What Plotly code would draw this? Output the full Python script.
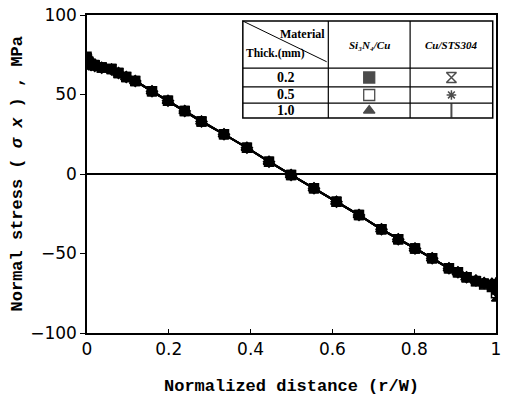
import plotly.graph_objects as go

# ---- data ----
r_over_w = [0.0, 0.004, 0.01, 0.019, 0.036, 0.06, 0.077, 0.096, 0.118, 0.159, 0.198,
            0.239, 0.28, 0.335, 0.391, 0.445, 0.499, 0.555, 0.61, 0.665, 0.72, 0.761,
            0.802, 0.844, 0.885, 0.907, 0.928, 0.951, 0.971, 0.99, 1.0]

stress_si_02 = [74.0, 71.0, 69.5, 68.5, 67.0, 66.0, 63.5, 61.0, 58.5, 52.0, 46.0,
                39.6, 33.0, 25.0, 16.5, 7.7, -0.6, -9.0, -17.4, -25.8, -34.8, -41.0,
                -46.8, -53.0, -59.3, -61.8, -65.0, -67.3, -68.8, -69.8, -73.0]
stress_si_05 = [72.0, 70.0, 69.0, 68.3, 67.0, 66.0, 63.5, 61.0, 58.5, 52.0, 46.0,
                39.6, 33.0, 25.0, 16.5, 7.7, -0.6, -9.0, -17.4, -25.8, -34.8, -41.0,
                -46.8, -53.0, -59.3, -61.8, -65.0, -67.5, -69.5, -71.0, -75.0]
stress_si_10 = [70.0, 69.0, 68.5, 68.0, 66.8, 65.8, 63.5, 61.0, 58.5, 52.0, 46.0,
                39.6, 33.0, 25.0, 16.5, 7.7, -0.6, -9.0, -17.4, -25.8, -34.8, -41.0,
                -46.8, -53.0, -59.3, -61.8, -65.0, -67.0, -68.5, -69.0, -69.0]
stress_cu_02 = [73.0, 70.5, 69.3, 68.5, 67.0, 66.0, 63.5, 61.0, 58.5, 52.0, 46.0,
                39.6, 33.0, 25.0, 16.5, 7.7, -0.6, -9.0, -17.4, -25.8, -34.8, -41.0,
                -46.8, -53.0, -59.3, -61.8, -65.0, -67.3, -68.8, -70.5, -77.0]
stress_cu_05 = [71.0, 69.5, 69.0, 68.3, 67.0, 66.0, 63.5, 61.0, 58.5, 52.0, 46.0,
                39.6, 33.0, 25.0, 16.5, 7.7, -0.6, -9.0, -17.4, -25.8, -34.8, -41.0,
                -46.8, -53.0, -59.3, -61.8, -65.0, -67.3, -69.0, -70.0, -71.0]
stress_cu_10 = [69.0, 68.5, 68.3, 68.0, 66.8, 65.8, 63.5, 61.0, 58.5, 52.0, 46.0,
                39.6, 33.0, 25.0, 16.5, 7.7, -0.6, -9.0, -17.4, -25.8, -34.8, -41.0,
                -46.8, -53.0, -59.3, -61.8, -65.0, -67.0, -68.5, -69.5, -68.0]

x_ticks = [0, 0.2, 0.4, 0.6, 0.8, 1]
x_tick_labels = ["0", "0.2", "0.4", "0.6", "0.8", "1"]
y_ticks = [-100, -50, 0, 50, 100]

thickness_labels = ["0.2", "0.5", "1.0"]
material_labels = ["Si₃N₄/Cu", "Cu/STS304"]
si_symbols = ["square", "square-open", "triangle-up"]
cu_symbols = ["hourglass-open", "asterisk-open", "line-ns-open"]

fig = go.Figure()

series = [
    (stress_cu_10, "line-ns-open", 7),
    (stress_si_10, "triangle-up", 10),
    (stress_si_05, "square-open", 9),
    (stress_cu_05, "asterisk-open", 8),
    (stress_cu_02, "hourglass", 9),
    (stress_si_02, "square", 8),
]
for ys, sym, sz in series:
    fig.add_trace(go.Scatter(
        x=r_over_w, y=ys, mode="lines+markers",
        line=dict(color="black", width=2),
        marker=dict(symbol=sym, size=sz, color="black",
                    line=dict(color="black", width=1.5)),
        showlegend=False, hoverinfo="skip"))
fig.add_trace(go.Scatter(
    x=r_over_w, y=stress_si_10, mode="markers",
    marker=dict(symbol="diamond", size=10, color="black"),
    showlegend=False, hoverinfo="skip"))

# ---- table in the upper right (paper coords of the plot area) ----
col_edges = [0.381, 0.590, 0.790, 0.992]
row_edges = [0.981, 0.833, 0.774, 0.723, 0.676]
shapes = []
shapes.append(dict(type="rect", xref="paper", yref="paper",
                   x0=col_edges[0], x1=col_edges[-1], y0=row_edges[-1], y1=row_edges[0],
                   fillcolor="white", line=dict(color="black", width=1.5), layer="below"))
for cx in col_edges[1:-1]:
    shapes.append(dict(type="line", xref="paper", yref="paper", x0=cx, x1=cx, layer="below",
                       y0=row_edges[-1], y1=row_edges[0], line=dict(color="black", width=1.2)))
for ry in row_edges[1:-1]:
    shapes.append(dict(type="line", xref="paper", yref="paper", x0=col_edges[0], x1=col_edges[-1],
                       layer="below", y0=ry, y1=ry, line=dict(color="black", width=1.2)))
shapes.append(dict(type="line", xref="paper", yref="paper", layer="below",
                   x0=col_edges[0], y0=row_edges[0], x1=col_edges[1] - 0.004, y1=row_edges[1] + 0.02,
                   line=dict(color="black", width=1)))

serif = "Liberation Serif"
ann = []
ann.append(dict(xref="paper", yref="paper", x=col_edges[1] - 0.004, y=0.94, xanchor="right",
                yanchor="middle", text="<b>Material</b>", showarrow=False,
                font=dict(family=serif, size=12, color="black")))
ann.append(dict(xref="paper", yref="paper", x=col_edges[0] + 0.003, y=0.878, xanchor="left",
                yanchor="middle", text="<b>Thick.(mm)</b>", showarrow=False,
                font=dict(family=serif, size=11.5, color="black")))
for i, lab in enumerate(material_labels):
    ann.append(dict(xref="paper", yref="paper", x=(col_edges[i + 1] + col_edges[i + 2]) / 2,
                    y=(row_edges[0] + row_edges[1]) / 2, xanchor="center", yanchor="middle",
                    text="<b><i>" + lab + "</i></b>", showarrow=False,
                    font=dict(family=serif, size=11, color="black")))
for j, lab in enumerate(thickness_labels):
    ann.append(dict(xref="paper", yref="paper", x=(col_edges[0] + col_edges[1]) / 2,
                    y=(row_edges[j + 1] + row_edges[j + 2]) / 2, xanchor="center", yanchor="middle",
                    text="<b>" + lab + "</b>", showarrow=False,
                    font=dict(family=serif, size=14, color="black")))

row_centers = [(row_edges[j + 1] + row_edges[j + 2]) / 2 for j in range(3)]
fig.add_trace(go.Scatter(
    x=[(col_edges[1] + col_edges[2]) / 2] * 3, y=row_centers, mode="markers",
    xaxis="x2", yaxis="y2", showlegend=False, hoverinfo="skip",
    marker=dict(symbol=si_symbols, size=[11, 11, 10], color="black",
                line=dict(color="black", width=1.3))))
fig.add_trace(go.Scatter(
    x=[(col_edges[2] + col_edges[3]) / 2] * 3, y=row_centers, mode="markers",
    xaxis="x2", yaxis="y2", showlegend=False, hoverinfo="skip",
    marker=dict(symbol=cu_symbols, size=[10, 8, 10], color="black",
                line=dict(color="black", width=[1.5, 1.5, 2]))))

# axis titles
ann.append(dict(xref="paper", yref="paper", x=0.5, y=-0.168, xanchor="center", yanchor="middle",
                text="<b>Normalized distance (r/W)</b>", showarrow=False,
                font=dict(family="Liberation Mono", size=17, color="black")))
ann.append(dict(xref="paper", yref="paper", x=-0.17, y=0.5, xanchor="center", yanchor="middle",
                textangle=-90,
                text="<b>Normal stress ( <i>σ x</i> ) , MPa</b>", showarrow=False,
                font=dict(family="Liberation Mono", size=17, color="black")))

fig.update_layout(
    width=505, height=398,
    margin=dict(l=87, r=4, t=15, b=65),
    paper_bgcolor="white", plot_bgcolor="white",
    shapes=shapes, annotations=ann,
    xaxis=dict(range=[0, 1], tickvals=x_ticks, ticktext=x_tick_labels,
               showgrid=False, zeroline=False, showline=True, linecolor="black", linewidth=1.5,
               mirror=True, ticks="inside", ticklen=4, tickcolor="black",
               tickfont=dict(family="DejaVu Sans", size=17, color="black")),
    yaxis=dict(range=[-100, 100], tickvals=y_ticks,
               showgrid=False, zeroline=True, zerolinecolor="black", zerolinewidth=1.5,
               showline=True, linecolor="black", linewidth=1.5, mirror=True,
               ticks="outside", ticklen=5, tickcolor="black",
               tickfont=dict(family="DejaVu Sans", size=17, color="black")),
    xaxis2=dict(range=[0, 1], overlaying="x", visible=False, fixedrange=True),
    yaxis2=dict(range=[0, 1], overlaying="y", visible=False, fixedrange=True),
)

fig.write_html("out.html")
